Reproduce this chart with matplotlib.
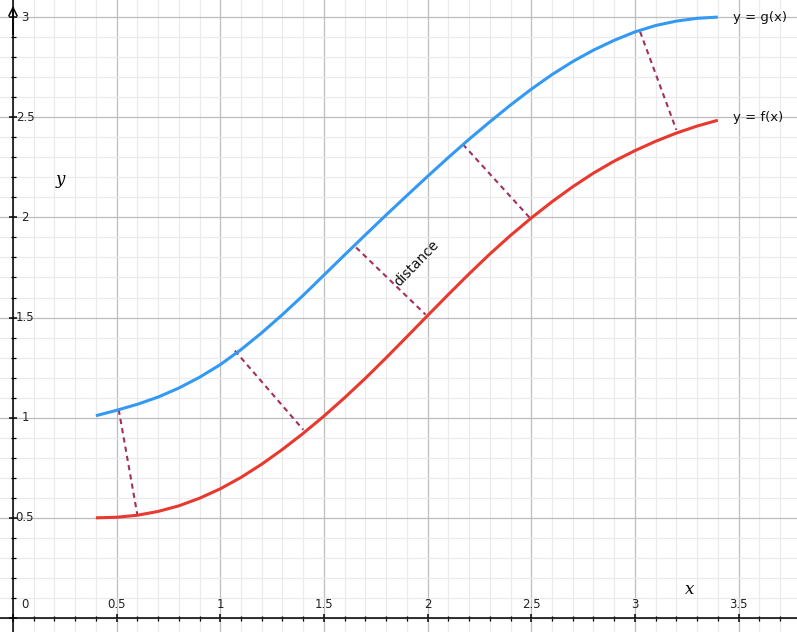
import numpy as np
import matplotlib
matplotlib.use("Agg")
import matplotlib.pyplot as plt
from matplotlib.ticker import MultipleLocator

# curve samples (x every 0.1 from 0.4 to 3.4)
xs = [0.4, 0.5, 0.6, 0.7, 0.8, 0.9, 1.0, 1.1, 1.2, 1.3, 1.4, 1.5, 1.6, 1.7, 1.8, 1.9,
      2.0, 2.1, 2.2, 2.3, 2.4, 2.5, 2.6, 2.7, 2.8, 2.9, 3.0, 3.1, 3.2, 3.3, 3.4]
f_vals = [0.500, 0.503, 0.513, 0.532, 0.560, 0.598, 0.645, 0.702, 0.768, 0.842, 0.922,
          1.008, 1.100, 1.197, 1.299, 1.404, 1.510, 1.615, 1.718, 1.817, 1.910, 1.997,
          2.078, 2.153, 2.221, 2.281, 2.333, 2.380, 2.421, 2.456, 2.485]
g_vals = [1.010, 1.037, 1.067, 1.103, 1.148, 1.202, 1.265, 1.340, 1.424, 1.515, 1.611,
          1.712, 1.813, 1.913, 2.012, 2.109, 2.205, 2.299, 2.390, 2.477, 2.561, 2.640,
          2.713, 2.778, 2.835, 2.884, 2.926, 2.958, 2.980, 2.994, 3.000]

# dashed "distance" segments: (x on g, y on g) -> (x on f, y on f)
seg_x0 = [0.51, 1.07, 1.655, 2.17, 3.025]
seg_y0 = [1.04, 1.335, 1.85, 2.365, 2.927]
seg_x1 = [0.60, 1.40, 1.99, 2.50, 3.20]
seg_y1 = [0.514, 0.94, 1.515, 1.99, 2.437]

xtick_vals = [0.5, 1, 1.5, 2, 2.5, 3, 3.5]
xtick_lbls = ["0.5", "1", "1.5", "2", "2.5", "3", "3.5"]
ytick_vals = [0.5, 1, 1.5, 2, 2.5, 3]
ytick_lbls = ["0.5", "1", "1.5", "2", "2.5", "3"]

BLUE = "#3399f3"
RED = "#e8392e"
DASH = "#a03060"

fig = plt.figure(figsize=(7.97, 6.32), dpi=100)
ax = fig.add_axes([0, 0, 1, 1])
ax.set_xlim(-13 / 207.3, 784 / 207.3)
ax.set_ylim(-14 / 200.3, 618 / 200.3)

# grid
ax.xaxis.set_major_locator(MultipleLocator(0.5))
ax.xaxis.set_minor_locator(MultipleLocator(0.1))
ax.yaxis.set_major_locator(MultipleLocator(0.5))
ax.yaxis.set_minor_locator(MultipleLocator(0.1))
ax.grid(which="minor", color="#ebebeb", lw=0.9, zorder=0)
ax.grid(which="major", color="#bdbdbd", lw=0.9, zorder=0)
ax.set_axisbelow(True)

# axes through the origin
for s in ["top", "right"]:
    ax.spines[s].set_visible(False)
ax.spines["left"].set_position(("data", 0))
ax.spines["bottom"].set_position(("data", 0))
ax.spines["left"].set_linewidth(1.1)
ax.spines["bottom"].set_linewidth(1.1)
ax.tick_params(which="major", direction="inout", length=6, width=1.1,
               labelbottom=False, labelleft=False)
ax.tick_params(which="minor", direction="inout", length=3.6, width=0.9)
ax.annotate("", xy=(0, 3.07), xytext=(0, 2.9),
            arrowprops=dict(arrowstyle="->,head_length=0.6,head_width=0.3", lw=1.1, color="k"))

tfont = dict(fontsize=8.5, family="DejaVu Sans", color="#222222")
for v, t in zip(xtick_vals, xtick_lbls):
    ax.annotate(t, (v, 0), xytext=(0, 9.4), textcoords="offset points",
                ha="center", va="center", **tfont)
for v, t in zip(ytick_vals, ytick_lbls):
    ax.annotate(t, (0, v), xytext=(8.6, 0), textcoords="offset points",
                ha="center", va="center", **tfont)
ax.annotate("0", (0, 0), xytext=(8.6, 9.4), textcoords="offset points",
            ha="center", va="center", **tfont)

# curves
ax.plot(xs, g_vals, color=BLUE, lw=2.2, solid_capstyle="butt",
        solid_joinstyle="round", zorder=3)
ax.plot(xs, f_vals, color=RED, lw=2.2, solid_capstyle="butt",
        solid_joinstyle="round", zorder=3)
for a, b, c, d in zip(seg_x0, seg_y0, seg_x1, seg_y1):
    ax.plot([a, c], [b, d], color=DASH, lw=1.5, ls=(0, (2.5, 2)), zorder=2)

ax.text(3.473, 3.0, "y = g(x)", fontsize=9.5, ha="left", va="center", color="#111111")
ax.text(3.473, 2.5, "y = f(x)", fontsize=9.5, ha="left", va="center", color="#111111")
ax.text(1.947, 1.77, "distance", fontsize=9.8, rotation=46, rotation_mode="anchor",
        ha="center", va="center", color="#111111")
ax.text(3.266, 0.14, "x", fontsize=12, family="DejaVu Serif", style="italic",
        ha="center", va="center")
ax.text(0.227, 2.187, "y", fontsize=12, family="DejaVu Serif", style="italic",
        ha="center", va="center")

fig.savefig("out.png", dpi=100)
